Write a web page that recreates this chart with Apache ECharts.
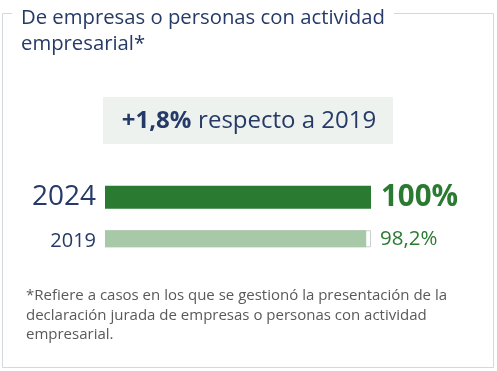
<!DOCTYPE html>
<html><head><meta charset="utf-8">
<script src="https://cdn.jsdelivr.net/npm/echarts@6/dist/echarts.min.js"></script>
<style>html,body{margin:0;padding:0;background:#fff}#c{width:497px;height:371px}</style>
</head><body><div id="c"></div>
<script>
var titleLines = ['De empresas o personas con actividad', 'empresarial*'];
var categories = ['2019', '2024'];
var values = [98.2, 100];
var valueLabels = ['98,2%', '100%'];
var trackMax = 100;
var changeText = '+1,8%';
var changeSuffix = 'respecto a 2019';
var footnoteLines = [
  '*Refiere a casos en los que se gestionó la presentación de la',
  'declaración jurada de empresas o personas con actividad',
  'empresarial.'
];

var FONT = '"Open Sans", "Noto Sans", sans-serif';
var NAVY = '#253a66';
var GREEN = '#2b7a32';
var LIGHT = '#a7c9a8';

var chart = echarts.init(document.getElementById('c'), null, {renderer: 'canvas'});
chart.setOption({
  animation: false,
  backgroundColor: '#fff',
  title: {
    text: titleLines.join('\n'),
    left: 16, top: 0,
    textStyle: {fontFamily: FONT, fontSize: 20.3, fontWeight: 'normal', color: NAVY, lineHeight: 26}
  },
  graphic: [
    {type: 'polyline', silent: true, z: -1,
     shape: {points: [[394, 13.5], [493.5, 13.5], [493.5, 367.5], [2.5, 367.5], [2.5, 13.5], [12, 13.5]]},
     style: {stroke: '#d3d9de', lineWidth: 1, fill: null}},
    {type: 'rect', silent: true, shape: {x: 103, y: 97, width: 290, height: 47},
     style: {fill: '#eef2ef'}},
    {type: 'text', silent: true, x: 249, y: 121,
     style: {
       text: '{b|' + changeText + '}  {n|' + changeSuffix + '}',
       align: 'center', verticalAlign: 'middle',
       rich: {
         b: {fontFamily: FONT, fontSize: 24, fontWeight: 'bold', fill: NAVY},
         n: {fontFamily: FONT, fontSize: 24, fill: NAVY}
       }
     }},
    {type: 'text', silent: true, left: 26, top: 286,
     style: {text: footnoteLines.join('\n'), fontFamily: FONT, fontSize: 15, lineHeight: 19.5, fill: '#595959'}}
  ],
  grid: {left: 105, right: 126, top: 175, bottom: 107, containLabel: false},
  xAxis: {type: 'value', min: 0, max: trackMax, show: false},
  yAxis: {
    type: 'category', data: categories,
    axisLine: {show: false}, axisTick: {show: false},
    axisLabel: {
      margin: 9,
      formatter: function (v) { return v === '2024' ? '{big|' + v + '}' : '{small|' + v + '}'; },
      rich: {
        big: {fontFamily: FONT, fontSize: 28, color: NAVY},
        small: {fontFamily: FONT, fontSize: 20, color: NAVY}
      }
    }
  },
  series: [
    {
      type: 'bar', barGap: '-100%', barWidth: 17, silent: true,
      data: [{value: trackMax, itemStyle: {color: '#fff', borderColor: '#c9cfcc', borderWidth: 1}}, '-'],
      label: {show: true, position: 'right', distance: 9,
        formatter: function (p) { return valueLabels[p.dataIndex]; },
        fontFamily: FONT, fontSize: 20.5, color: GREEN}
    },
    {
      type: 'bar', barGap: '-100%', barWidth: 17, silent: true,
      data: [values[0], '-'], itemStyle: {color: LIGHT}
    },
    {
      type: 'bar', barGap: '-100%', barWidth: 23, silent: true,
      data: ['-', values[1]], itemStyle: {color: GREEN},
      label: {show: true, position: 'right', distance: 10,
        formatter: function (p) { return valueLabels[p.dataIndex]; },
        fontFamily: FONT, fontSize: 29.5, fontWeight: 'bold', color: GREEN}
    }
  ]
});
</script></body></html>
